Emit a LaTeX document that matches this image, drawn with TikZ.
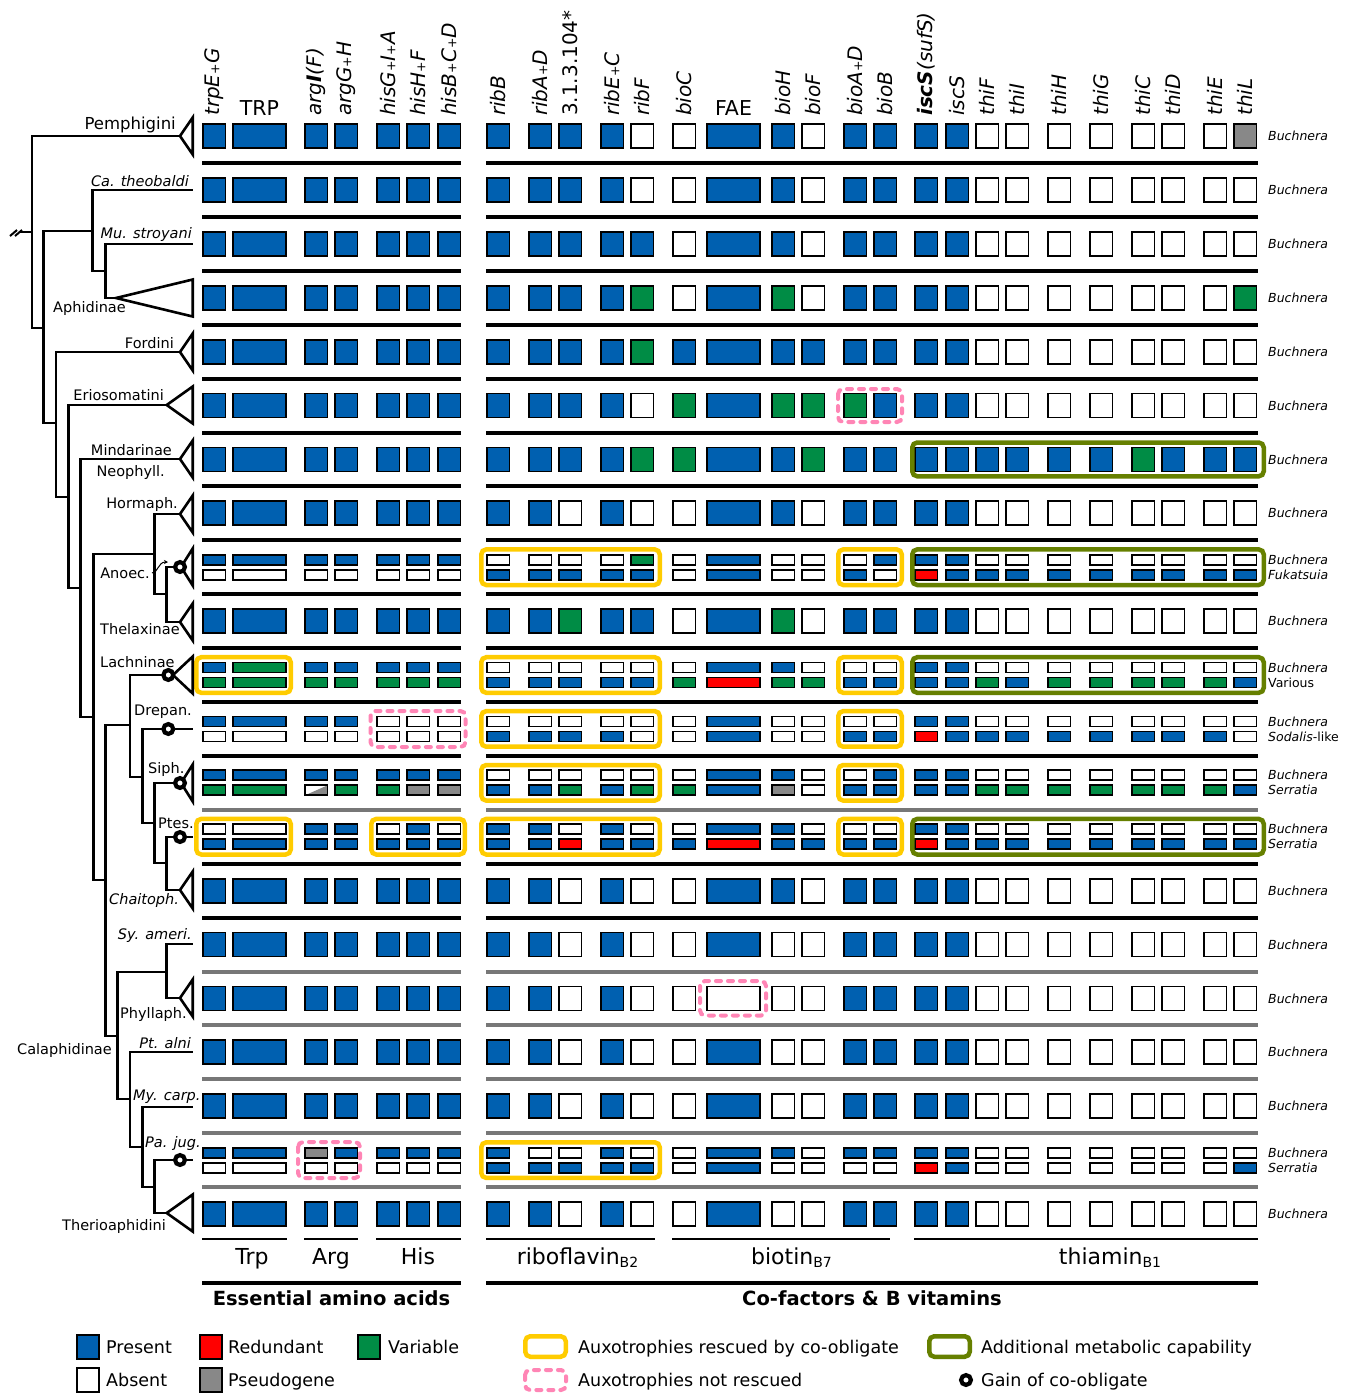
\documentclass[tikz,border=0pt]{standalone}
\usepackage{fontspec}
\setmainfont{DejaVu Sans}
\usetikzlibrary{arrows.meta}
\definecolor{colB}{HTML}{0060B0}
\definecolor{colW}{HTML}{FFFFFF}
\definecolor{colG}{HTML}{008C45}
\definecolor{colR}{HTML}{FF0000}
\definecolor{colP}{HTML}{888888}
\definecolor{yel}{HTML}{FFCC00}
\definecolor{oli}{HTML}{668000}
\definecolor{pnk}{HTML}{FF85B5}
\definecolor{sepgray}{HTML}{777777}
\def\XL{{202,232,304,334,376,406,437,486,528,558,600,630,672,706,771,801,843,873,914,945,975,1005,1047,1089,1131,1161,1203,1233}}
\tikzset{
 cellbox/.style={draw=black, line width=1.8pt},
 tree/.style={line width=2.6pt, line join=miter},
 yelbox/.style={draw=yel, line width=4.5pt, rounded corners=5pt},
 olibox/.style={draw=oli, line width=4.5pt, rounded corners=5pt},
 pnkbox/.style={draw=pnk, line width=4pt, rounded corners=5pt, dash pattern=on 5pt off 7pt, line cap=round},
 gain/.style={draw=black, fill=white, line width=4.2pt},
 hdr/.style={font=\fontsize{20}{20}\selectfont\itshape, inner sep=0pt, rotate=90, anchor=west},
 hdrup/.style={font=\fontsize{20.5}{20.5}\selectfont, inner sep=0pt},
 lbl/.style={font=\fontsize{14.5}{14.5}\selectfont, inner sep=0pt},
 lbli/.style={font=\fontsize{14.5}{14.5}\selectfont\itshape, inner sep=0pt},
 sym/.style={font=\fontsize{12.5}{12.5}\selectfont\itshape, inner sep=0pt, anchor=base west},
 grp/.style={font=\fontsize{22}{22}\selectfont, inner sep=0pt, anchor=base},
 big/.style={font=\fontsize{19.5}{19.5}\selectfont\bfseries, inner sep=0pt, anchor=base},
 leg/.style={font=\fontsize{17.5}{17.5}\selectfont, inner sep=0pt, anchor=base west},
 sepline/.style={line width=4pt},
}
\newcommand\pl{{\upshape\fontsize{12.5}{12.5}\selectfont+}}
\newcommand\cellrow[3]{%
  \foreach \cl [count=\i] in {#3} {%
    \pgfmathsetmacro\xl{\XL[\i-1]}%
    \pgfmathsetmacro\xr{\xl+ifthenelse(or(\i==2,\i==14),55,24.5)}%
    \path[cellbox, fill=col\cl] (\xl+1,#1+1) rectangle (\xr-1,#2-1);%
  }}
\newcommand\fullrow[2]{\cellrow{#1-13}{#1+13}{#2}}
\newcommand\duorow[3]{\cellrow{#1-13.5}{#1-1.5}{#2}\cellrow{#1+1.5}{#1+13.5}{#3}}
\newcommand\sgl[1]{\node[sym] at (1268,#1+4.6) {Buchnera};}
\newcommand\dbl[2]{\node[sym] at (1268,#1-2.9) {Buchnera};\node[sym] at (1268,#1+12.1) {#2};}
\begin{document}
\begin{tikzpicture}[x=1pt,y=-1pt]
\useasboundingbox (0,0) rectangle (1348,1393);
\fill[white] (0,0) rectangle (1348,1393);

% ---------- headers
\node[hdr] (h1) at (214,116) {trpE\pl G};
\node[hdrup] (h2) at (259.5,108) {TRP};
\node[hdr] (h3) at (316,116) {arg{\bfseries I}(F)};
\node[hdr] (h4) at (346,116) {argG\pl H};
\node[hdr] (h5) at (388,116) {hisG\pl I\pl A};
\node[hdr] (h6) at (418,116) {hisH\pl F};
\node[hdr] (h7) at (449,116) {hisB\pl C\pl D};
\node[hdr] (h8) at (498,116) {ribB};
\node[hdr] (h9) at (540,116) {ribA\pl D};
\node[hdr, font=\fontsize{20}{20}\selectfont] (h10) at (570,116) {3.1.3.104*};
\node[hdr] (h11) at (612,116) {ribE\pl C};
\node[hdr] (h12) at (642,116) {ribF};
\node[hdr] (h13) at (684,116) {bioC};
\node[hdrup] (h14) at (733.5,108) {FAE};
\node[hdr] (h15) at (783,116) {bioH};
\node[hdr] (h16) at (813,116) {bioF};
\node[hdr] (h17) at (855,116) {bioA\pl D};
\node[hdr] (h18) at (885,116) {bioB};
\node[hdr] (h19) at (926,116) {{\bfseries iscS}(sufS)};
\node[hdr] (h20) at (957,116) {iscS};
\node[hdr] (h21) at (987,116) {thiF};
\node[hdr] (h22) at (1017,116) {thiI};
\node[hdr] (h23) at (1059,116) {thiH};
\node[hdr] (h24) at (1101,116) {thiG};
\node[hdr] (h25) at (1143,116) {thiC};
\node[hdr] (h26) at (1173,116) {thiD};
\node[hdr] (h27) at (1215,116) {thiE};
\node[hdr] (h28) at (1245,116) {thiL};

% ---------- separators
\foreach \k in {1,...,12,14,15} {
  \pgfmathsetmacro\yy{163+(\k-1)*53.9}
  \draw[sepline, black] (202,\yy) -- (461,\yy) (486,\yy) -- (1258,\yy);
}
\foreach \k in {13,16,17,18,19,20} {
  \pgfmathsetmacro\yy{163+(\k-1)*53.9}
  \draw[sepline, sepgray] (202,\yy) -- (461,\yy) (486,\yy) -- (1258,\yy);
}

% ---------- data rows
\fullrow{136}{B,B,B,B,B,B,B,B,B,B,B,W,W,B,B,W,B,B,B,B,W,W,W,W,W,W,W,P}
\fullrow{189.9}{B,B,B,B,B,B,B,B,B,B,B,W,W,B,B,W,B,B,B,B,W,W,W,W,W,W,W,W}
\fullrow{243.8}{B,B,B,B,B,B,B,B,B,B,B,B,W,B,B,W,B,B,B,B,W,W,W,W,W,W,W,W}
\fullrow{297.7}{B,B,B,B,B,B,B,B,B,B,B,G,W,B,G,W,B,B,B,B,W,W,W,W,W,W,W,G}
\fullrow{351.6}{B,B,B,B,B,B,B,B,B,B,B,G,B,B,B,B,B,B,B,B,W,W,W,W,W,W,W,W}
\fullrow{405.5}{B,B,B,B,B,B,B,B,B,B,B,W,G,B,G,G,G,B,B,B,W,W,W,W,W,W,W,W}
\fullrow{459.4}{B,B,B,B,B,B,B,B,B,B,B,G,G,B,B,G,B,B,B,B,B,B,B,B,G,B,B,B}
\fullrow{513.3}{B,B,B,B,B,B,B,B,B,W,B,W,W,B,B,W,B,B,B,B,W,W,W,W,W,W,W,W}
\duorow{567.2}{B,B,B,B,B,B,B,W,W,W,W,G,W,B,W,W,W,B,B,B,W,W,W,W,W,W,W,W}{W,W,W,W,W,W,W,B,B,B,B,B,W,B,W,W,B,W,R,B,B,B,B,B,B,B,B,B}
\fullrow{621.1}{B,B,B,B,B,B,B,B,B,G,B,B,W,B,G,W,B,B,B,B,W,W,W,W,W,W,W,W}
\duorow{675}{B,G,B,B,B,B,B,W,W,W,W,W,W,B,B,W,W,W,B,B,W,W,W,W,W,W,W,W}{G,G,G,G,G,G,G,B,B,B,B,B,G,R,G,G,B,B,B,B,G,B,G,G,G,G,G,B}
\duorow{728.9}{B,B,B,B,W,W,W,W,W,W,W,W,W,B,W,W,W,W,B,B,W,W,W,W,W,W,W,W}{W,W,W,W,W,W,W,B,B,B,B,W,W,B,W,W,B,B,R,B,B,B,B,B,B,B,B,W}
\duorow{782.8}{B,B,B,B,B,B,B,W,W,W,W,W,W,B,B,W,W,B,B,B,W,W,W,W,W,W,W,W}{G,G,W,G,G,P,P,B,B,G,B,G,G,B,P,W,B,B,B,B,G,G,G,G,G,G,G,B}
\duorow{836.7}{W,W,B,B,W,B,W,B,B,W,B,W,W,B,B,W,W,W,B,B,W,W,W,W,W,W,W,W}{B,B,B,B,B,B,B,B,B,R,B,B,B,R,B,B,B,B,R,B,B,B,B,B,B,B,B,B}
\fullrow{890.6}{B,B,B,B,B,B,B,B,B,W,B,W,W,B,B,W,B,B,B,B,W,W,W,W,W,W,W,W}
\fullrow{944.5}{B,B,B,B,B,B,B,B,B,W,B,W,W,B,W,W,B,B,B,B,W,W,W,W,W,W,W,W}
\fullrow{998.4}{B,B,B,B,B,B,B,B,B,W,B,W,W,W,W,W,B,B,B,B,W,W,W,W,W,W,W,W}
\fullrow{1052.3}{B,B,B,B,B,B,B,B,B,W,B,W,W,B,W,W,B,B,B,B,W,W,W,W,W,W,W,W}
\fullrow{1106.2}{B,B,B,B,B,B,B,B,B,W,B,W,W,B,W,W,B,B,B,B,W,W,W,W,W,W,W,W}
\duorow{1160.1}{B,B,P,B,B,B,B,B,W,W,B,W,W,B,B,W,B,B,B,B,W,W,W,W,W,W,W,W}{W,W,W,W,W,W,W,B,B,B,B,B,W,B,W,W,W,W,R,B,W,W,W,W,W,W,W,B}
\fullrow{1214}{B,B,B,B,B,B,B,B,B,W,B,W,W,B,W,W,B,B,B,B,W,W,W,W,W,W,W,W}
% half pseudogene cell (Siph., argI)
\fill[colP] (305,795.3) -- (327.5,785.3) -- (327.5,795.3) -- cycle;
\draw[cellbox] (305,785.3) rectangle (327.5,795.3);

% ---------- highlight boxes
\draw[pnkbox] (838,389) rectangle (902,422);
\draw[olibox] (912.25,442.5) rectangle (1263.75,476.3);
\draw[yelbox] (481.25,549.4) rectangle (659.75,585);
\draw[yelbox] (838.25,549.4) rectangle (901.75,585);
\draw[olibox] (912.25,549.4) rectangle (1263.75,585);
\draw[yelbox] (196.25,657.2) rectangle (290.75,692.8);
\draw[yelbox] (481.25,657.2) rectangle (659.75,692.8);
\draw[yelbox] (838.25,657.2) rectangle (901.75,692.8);
\draw[olibox] (912.25,657.2) rectangle (1263.75,692.8);
\draw[pnkbox] (370.5,711) rectangle (465.5,747);
\draw[yelbox] (481.25,711.1) rectangle (659.75,746.7);
\draw[yelbox] (838.25,711.1) rectangle (901.75,746.7);
\draw[yelbox] (481.25,765) rectangle (659.75,800.6);
\draw[yelbox] (838.25,765) rectangle (901.75,800.6);
\draw[yelbox] (196.25,818.9) rectangle (290.75,854.5);
\draw[yelbox] (371.25,818.9) rectangle (464.75,854.5);
\draw[yelbox] (481.25,818.9) rectangle (659.75,854.5);
\draw[yelbox] (838.25,818.9) rectangle (901.75,854.5);
\draw[olibox] (912.25,818.9) rectangle (1263.75,854.5);
\draw[pnkbox] (700,981) rectangle (766,1015.5);
\draw[pnkbox] (298,1142) rectangle (360,1178);
\draw[yelbox] (481.25,1142.3) rectangle (659.75,1177.9);

% ---------- symbiont labels
\sgl{136}\sgl{189.9}\sgl{243.8}\sgl{297.7}\sgl{351.6}\sgl{405.5}\sgl{459.4}\sgl{513.3}
\dbl{567.2}{Fukatsuia}
\sgl{621.1}
\dbl{675}{\upshape Various}
\dbl{728.9}{Sodalis\upshape -like}
\dbl{782.8}{Serratia}
\dbl{836.7}{Serratia}
\sgl{890.6}\sgl{944.5}\sgl{998.4}\sgl{1052.3}\sgl{1106.2}
\dbl{1160.1}{Serratia}
\sgl{1214}

% ---------- tree
\begin{scope}[tree]
\draw (19,232) -- (32,232);
\draw[line width=2pt] (10,236) -- (17,230) (15,236) -- (22,230);
\draw (180,136) -| (32,328) -- (43.3,328);
\draw (92.7,231) -| (43.3,423) -- (56,423);
\draw (192.7,190) -| (92.7,271) -- (105.7,271);
\draw (192.7,244) -| (105.7,298) -- (116,298);
\draw (180,352) -| (56,497) -- (68.3,497);
\draw (166.7,405) -| (68.3,588) -- (80.7,588);
\draw (180,459) -| (80.7,717) -- (93.3,717);
\draw (154.3,554) -| (93.3,880) -- (105.7,880);
\draw (180,514) -| (154.3,594) -- (166.7,594);
\draw (180,567) -| (166.7,622) -- (180,622);
\draw (130,725) -| (105.7,1036) -- (117.3,1036);
\draw (173,675) -| (130,777) -- (142.7,777);
\draw (192.7,729) -| (142.7,823) -- (154.3,823);
\draw (180,783) -| (154.3,863) -- (166.7,863);
\draw (192.7,837) -| (166.7,890) -- (180,890);
\draw (166.7,972) -| (117.3,1099) -- (130,1099);
\draw (192.7,944) -| (166.7,998) -- (180,998);
\draw (192.7,1052) -| (130,1147) -- (142.7,1147);
\draw (192.7,1107) -| (142.7,1187) -- (154.3,1187);
\draw (192.7,1160) -| (154.3,1213) -- (166.7,1213);
% collapsed clades
\foreach \ax/\ay in {180/136,180/352,166.7/405,180/459,180/514,181/567,180/622,173/675,181/783,180/890,180/998,166.7/1213,116/298}
  \draw[fill=white] (\ax,\ay) -- (192.7,\ay-18.5) -- (192.7,\ay+18.5) -- cycle;
\end{scope}
\draw[-{Stealth[length=4pt,width=4pt]}, line width=1pt] (152,573) .. controls (158,573) and (158,562) .. (168,562);
\foreach \gx/\gy in {180/567,168.3/675,168.3/729,180/783,180/837,180/1160}
  \draw[gain] (\gx,\gy) circle (4.9);

% ---------- tree labels
\node[lbl, anchor=base east, font=\fontsize{16.5}{16.5}\selectfont] (t1) at (176,129) {Pemphigini};
\node[lbli, anchor=base east] (t2) at (189,186.3) {Ca. theobaldi};
\node[lbli, anchor=base east] (t3) at (192,238.3) {Mu. stroyani};
\node[lbl, anchor=base west] (t4) at (53,312) {Aphidinae};
\node[lbl, anchor=base east] (t5) at (174,348) {Fordini};
\node[lbl, anchor=base east] (t6) at (164,400.3) {Eriosomatini};
\node[lbl, anchor=base east] (t7) at (172,455.3) {Mindarinae};
\node[lbl, anchor=base east] (t8) at (165,476.3) {Neophyll.};
\node[lbl, anchor=base east] (t9) at (178,508.3) {Hormaph.};
\node[lbl, anchor=base east] (t10) at (150,578.3) {Anoec.};
\node[lbl, anchor=base west] (t11) at (100,634.3) {Thelaxinae};
\node[lbl, anchor=base west] (t12) at (100,667.3) {Lachninae};
\node[lbl, anchor=base east] (t13) at (192,715.3) {Drepan.};
\node[lbl, anchor=base west] (t14) at (148,773.3) {Siph.};
\node[lbl, anchor=base west] (t15) at (158,828.3) {Ptes.};
\node[lbli, anchor=base west] (t16) at (109,904.3) {Chaitoph.};
\node[lbli, anchor=base east] (t17) at (192,939.3) {Sy. ameri.};
\node[lbl, anchor=base west] (t18) at (120,1018.3) {Phyllaph.};
\node[lbl, anchor=base west] (t19) at (17,1054.3) {Calaphidinae};
\node[lbli, anchor=base east] (t20) at (191,1048.3) {Pt. alni};
\node[lbli, anchor=base west] (t21) at (133,1100.3) {My. carp.};
\node[lbli, anchor=base west] (t22) at (145,1147) {Pa. jug.};
\node[lbl, anchor=base west] (t23) at (62,1230.3) {Therioaphidini};

% ---------- group labels
\draw[line width=2pt] (202,1239) -- (287,1239) (304,1239) -- (358,1239) (376,1239) -- (461,1239)
  (486,1239) -- (655,1239) (672,1239) -- (890,1239) (914,1239) -- (1258,1239);
\node[grp] (g1) at (252,1264) {Trp};
\node[grp] (g2) at (331,1264) {Arg};
\node[grp] (g3) at (418,1264) {His};
\node[grp] (g4) at (577.5,1264) {riboflavin{\fontsize{14}{14}\selectfont\raisebox{-3.5pt}{B2}}};
\node[grp] (g5) at (791.5,1264) {biotin{\fontsize{14}{14}\selectfont\raisebox{-3.5pt}{B7}}};
\node[grp] (g6) at (1110,1264) {thiamin{\fontsize{14}{14}\selectfont\raisebox{-3.5pt}{B1}}};
\draw[sepline] (202,1283) -- (461,1283) (486,1283) -- (1258,1283);
\node[big] (b1) at (331.5,1305) {Essential amino acids};
\node[big] (b2) at (872,1305) {Co-factors \& B vitamins};

% ---------- legend
\path[cellbox, fill=colB] (77,1335) rectangle (99,1359);
\node[leg] (l1) at (106,1353.4) {Present};
\path[cellbox, fill=colR] (200,1335) rectangle (222,1359);
\node[leg] (l2) at (228,1353.4) {Redundant};
\path[cellbox, fill=colG] (358,1335) rectangle (380,1359);
\node[leg] (l3) at (388,1353.4) {Variable};
\path[cellbox, fill=colW] (77,1368) rectangle (99,1392);
\node[leg] (l4) at (106,1386.4) {Absent};
\path[cellbox, fill=colP] (200,1368) rectangle (222,1392);
\node[leg] (l5) at (228,1386.4) {Pseudogene};
\draw[yelbox] (525.25,1336.25) rectangle (565.75,1356.75);
\node[leg] (l6) at (578,1353.4) {Auxotrophies rescued by co-obligate};
\draw[olibox] (929.25,1336.25) rectangle (969.75,1356.75);
\node[leg] (l7) at (981,1353.4) {Additional metabolic capability};
\draw[pnkbox] (525,1370) rectangle (566,1390);
\node[leg] (l8) at (578,1386.4) {Auxotrophies not rescued};
\draw[gain] (966,1380) circle (4.9);
\node[leg] (l9) at (981,1386.4) {Gain of co-obligate};
\end{tikzpicture}
\end{document}
